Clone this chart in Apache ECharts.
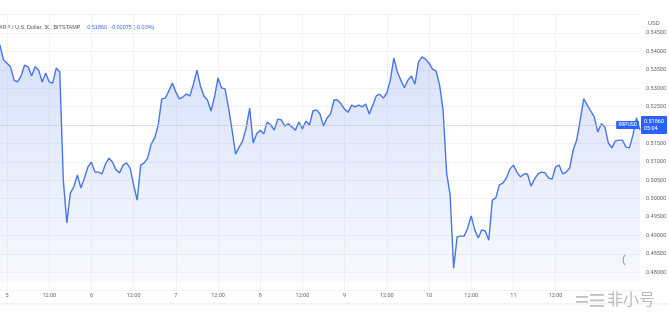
<!DOCTYPE html>
<html>
<head>
<meta charset="utf-8">
<script src="https://cdn.jsdelivr.net/npm/echarts@6/dist/echarts.min.js"></script>
<style>html,body{margin:0;padding:0;background:#fff;}#c{width:669px;height:319px;}</style>
</head>
<body>
<div id="c"></div>
<script>
// hourly closes, XRP/USD, starting day 4 22:00
const startDay = 4;
const startHour = 22;
const prices = [
0.5417,0.5377,0.5368,0.5358,0.5322,0.5317,0.5333,0.5363,0.5358,0.5333,
0.5358,0.5349,0.5317,0.5341,0.5317,0.5314,0.5355,0.5344,0.5051,0.4934,
0.5015,0.5032,0.5064,0.5029,0.5056,0.5086,0.5099,0.5072,0.5072,0.5067,
0.5094,0.5110,0.5099,0.5078,0.5070,0.5091,0.5097,0.5083,0.5037,0.4996,
0.5091,0.5097,0.5110,0.5148,0.5165,0.5200,0.5271,0.5273,0.5292,0.5314,
0.5290,0.5271,0.5276,0.5284,0.5279,0.5311,0.5349,0.5306,0.5279,0.5268,
0.5238,0.5276,0.5328,0.5301,0.5298,0.5246,0.5186,0.5121,0.5140,0.5157,
0.5192,0.5246,0.5151,0.5176,0.5186,0.5176,0.5208,0.5200,0.5186,0.5216,
0.5214,0.5197,0.5203,0.5195,0.5186,0.5208,0.5189,0.5211,0.5200,0.5238,
0.5241,0.5230,0.5197,0.5219,0.5230,0.5268,0.5268,0.5257,0.5243,0.5235,
0.5254,0.5249,0.5254,0.5249,0.5257,0.5230,0.5254,0.5279,0.5284,0.5273,
0.5287,0.5322,0.5382,0.5344,0.5322,0.5301,0.5322,0.5333,0.5311,0.5371,
0.5385,0.5379,0.5368,0.5352,0.5347,0.5309,0.5241,0.5070,0.5010,0.4811,
0.4896,0.4898,0.4898,0.4920,0.4953,0.4915,0.4893,0.4915,0.4912,0.4887,
0.4996,0.5002,0.5037,0.5042,0.5056,0.5080,0.5091,0.5072,0.5059,0.5067,
0.5067,0.5034,0.5053,0.5067,0.5072,0.5070,0.5056,0.5053,0.5086,0.5091,
0.5067,0.5072,0.5083,0.5132,0.5159,0.5214,0.5271,0.5254,0.5238,0.5222,
0.5181,0.5203,0.5195,0.5151,0.5138,0.5157,0.5159,0.5159,0.5140,0.5138,
0.5173,0.5219,0.5186
];
const tickLabels = ["5","12:00","6","12:00","7","12:00","8","12:00","9","12:00","10","12:00","11","12:00"];
const lastPrice = 0.5186;
const lastPriceText = "0.51860";
const countdown = "05:04";
const change = "-0.00075 (-0.03%)";
const titleText = "XRP / U.S. Dollar, 30, BITSTAMP";

const categories = [];
for (let i = 0; i < prices.length; i++) {
  const h = startHour + i;
  const d = startDay + Math.floor(h / 24);
  categories.push(d + " " + String(h % 24).padStart(2, "0") + ":00");
}
const offset = (24 - startHour) % 24;
function isTick(idx) {
  const k = idx - offset;
  return k >= 0 && k % 12 === 0 && k / 12 < tickLabels.length;
}

const chart = echarts.init(document.getElementById('c'), null, {renderer: 'canvas'});
chart.setOption({
  animation: false,
  backgroundColor: '#ffffff',
  textStyle: {fontFamily: 'Roboto, "Noto Sans", sans-serif'},
  grid: {left: 0, right: 27, top: 14.6, bottom: 28.4, containLabel: false},
  xAxis: {
    type: 'category',
    data: categories,
    boundaryGap: false,
    axisLine: {show: false},
    axisTick: {show: false},
    axisLabel: {
      interval: (idx) => isTick(idx),
      formatter: (v, idx) => tickLabels[(idx - offset) / 12] || '',
      fontSize: 5.5, color: '#666', margin: 2
    },
    splitLine: {show: true, interval: (idx) => isTick(idx), lineStyle: {color: '#f1f3f8', width: 1}}
  },
  yAxis: {
    type: 'value',
    position: 'right',
    min: 0.475, max: 0.55, interval: 0.005,
    axisLine: {show: false},
    axisTick: {show: false},
    axisLabel: {
      showMinLabel: false, showMaxLabel: false,
      formatter: (v) => v.toFixed(5),
      fontSize: 5.5, color: '#666', margin: 6, align: 'left'
    },
    splitLine: {show: true, lineStyle: {color: '#f1f3f8', width: 1}}
  },
  series: [{
    type: 'line',
    data: prices,
    symbol: 'none',
    smooth: false,
    lineStyle: {color: '#4777e6', width: 1.4},
    areaStyle: {
      origin: 0.4772,
      color: new echarts.graphic.LinearGradient(0, 0, 0, 1, [
        {offset: 0, color: 'rgba(80,120,235,0.32)'},
        {offset: 1, color: 'rgba(80,120,235,0.06)'}
      ])
    },
    markLine: {
      silent: true,
      symbol: 'none',
      lineStyle: {color: '#c9c9cf', type: 'dotted', width: 1},
      data: [
        {yAxis: lastPrice, label: {show: true, position: 'end', distance: 1,
          formatter: lastPriceText + '\n' + countdown, backgroundColor: '#2962ff',
          color: '#fff', fontSize: 5.5, lineHeight: 7, padding: [2, 3, 2, 3], borderRadius: 1}},
        {yAxis: lastPrice, label: {show: true, position: 'insideEnd', distance: 1,
          formatter: 'XRPUSD', backgroundColor: '#2962ff',
          color: '#fff', fontSize: 5, padding: [1.5, 2, 1.5, 2], borderRadius: 1}}
      ]
    }
  }],
  graphic: [
    {type: 'text', left: -1, top: 21, style: {
      text: '{a|' + titleText + '}  {b|' + lastPriceText + '  ' + change + '}',
      rich: {a: {fontSize: 5.5, fill: '#555'}, b: {fontSize: 5.5, fill: '#3b6ee8'}}
    }},
    {type: 'text', left: 648, top: 20, style: {text: 'USD', fontSize: 5.5, fill: '#666'}},
    {type: 'rect', shape: {x: 0, y: 303.5, width: 669, height: 0.8}, style: {fill: '#e6e8ee'}},
    {type: 'text', left: 622, top: 254, style: {text: '(', fontSize: 11, fill: '#a47ddc'}},
    {type: 'rect', shape: {x: 576, y: 296, width: 12, height: 1.8}, style: {fill: 'rgba(150,150,150,0.6)'}},
    {type: 'rect', shape: {x: 576, y: 301, width: 12, height: 1.8}, style: {fill: 'rgba(150,150,150,0.6)'}},
    {type: 'rect', shape: {x: 590, y: 294, width: 14, height: 1.8}, style: {fill: 'rgba(150,150,150,0.6)'}},
    {type: 'rect', shape: {x: 590, y: 299.5, width: 14, height: 1.8}, style: {fill: 'rgba(150,150,150,0.6)'}},
    {type: 'rect', shape: {x: 590, y: 305, width: 14, height: 1.8}, style: {fill: 'rgba(150,150,150,0.6)'}},
    {type: 'text', left: 607, top: 291, style: {text: '非小号', fontSize: 16, fontFamily: '"Noto Sans CJK SC"', fill: 'rgba(140,140,140,0.6)'}}
  ]
});
</script>
</body>
</html>
